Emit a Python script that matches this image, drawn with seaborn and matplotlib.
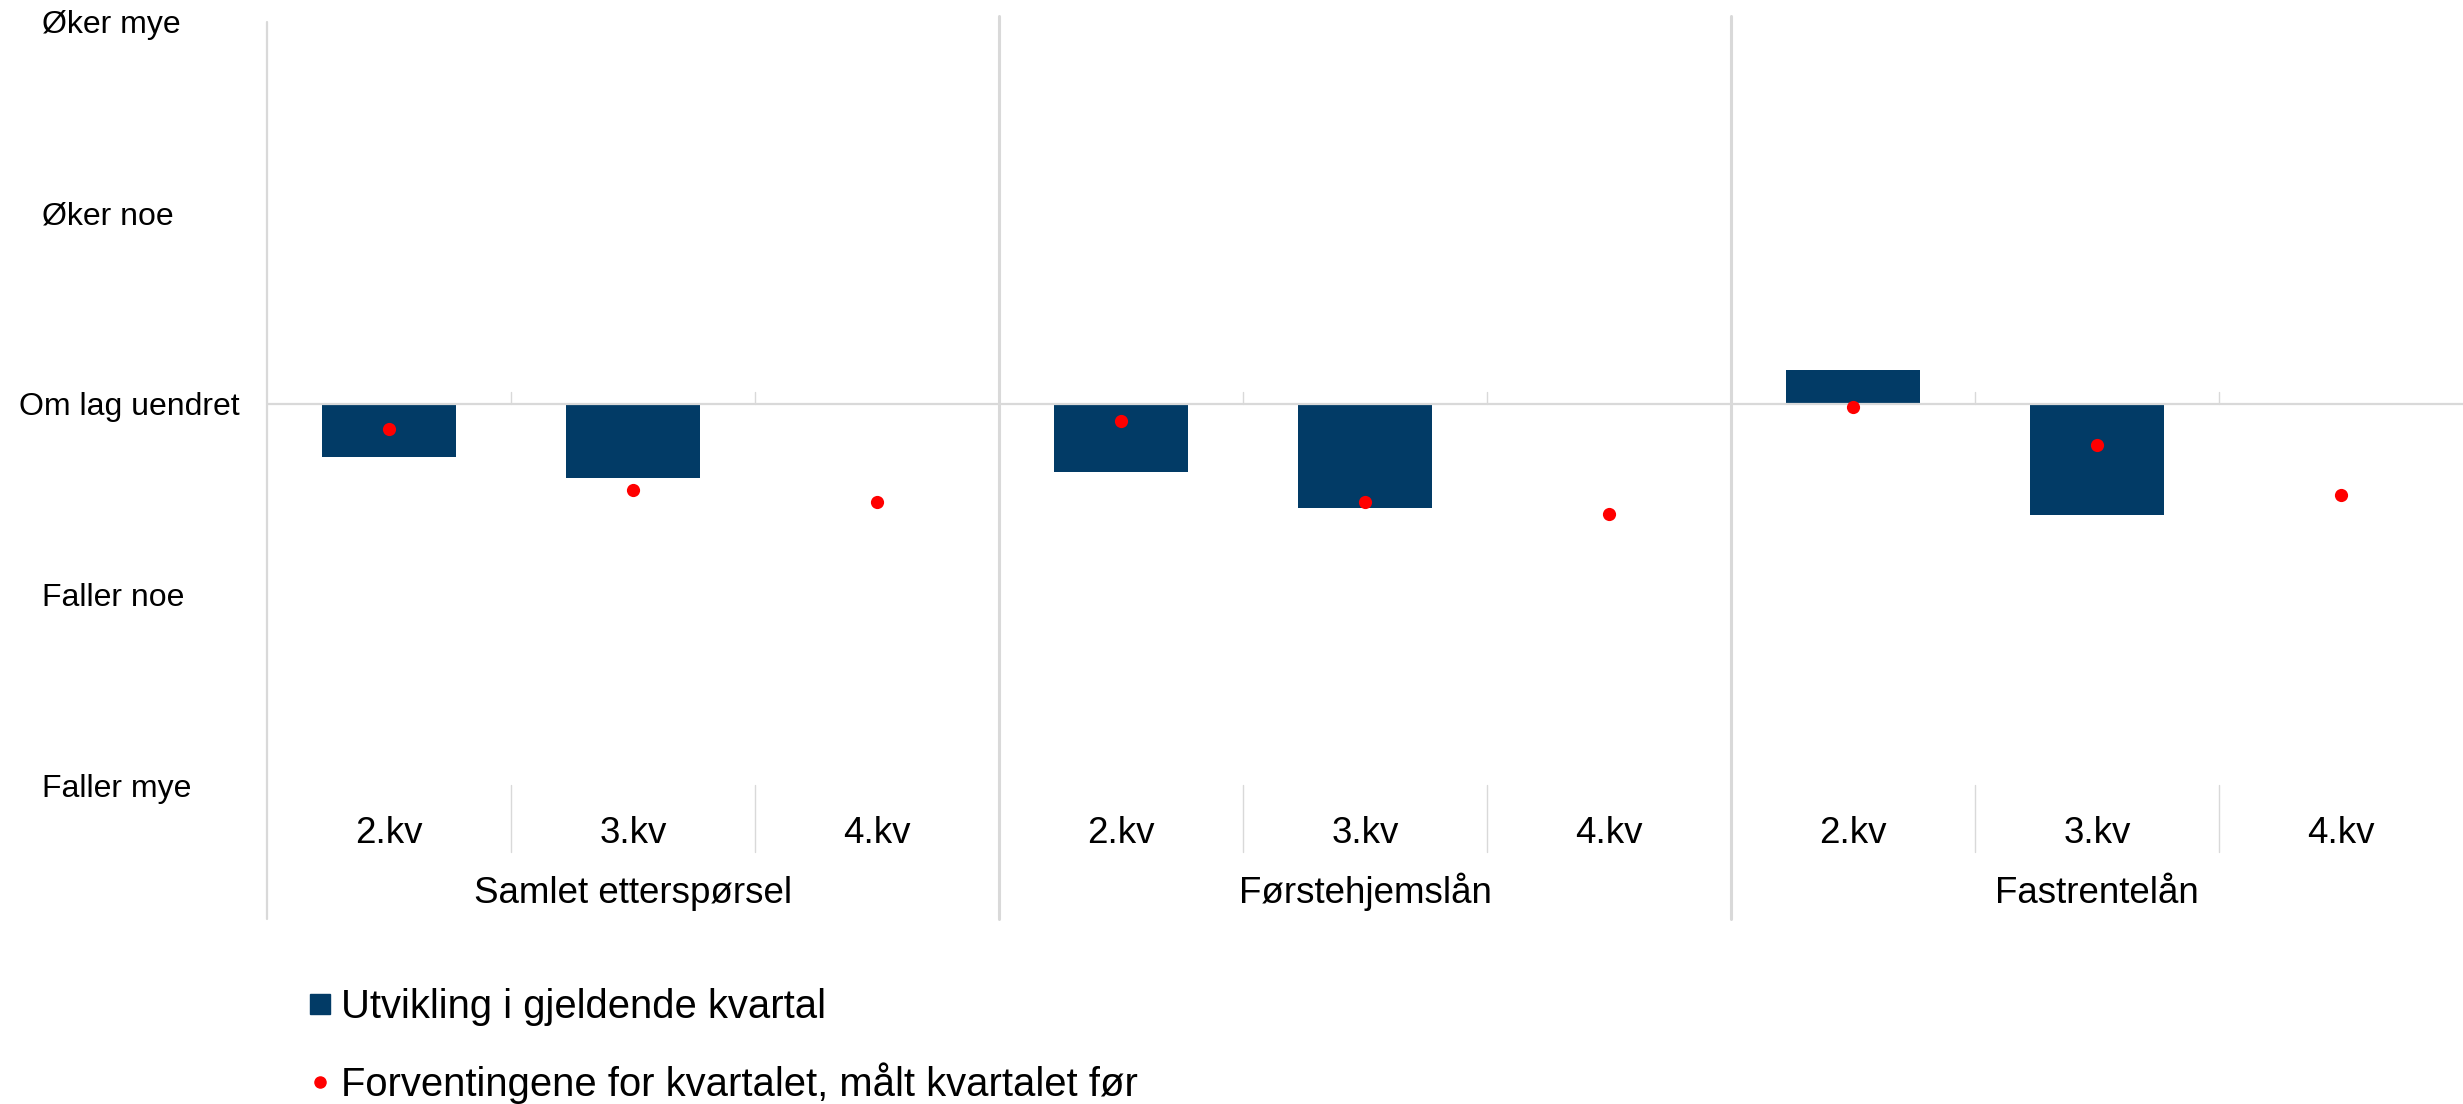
import matplotlib
matplotlib.use("Agg")
import matplotlib.pyplot as plt
from matplotlib.lines import Line2D
import seaborn as sns
import numpy as np
import pandas as pd

# Data (net share, -100..100)
groups = ["Samlet etterspørsel", "Førstehjemslån", "Fastrentelån"]
quarters = ["2.kv", "3.kv", "4.kv"]
utvikling = [-14.0, -19.4, np.nan,
             -18.0, -27.5, np.nan,
             8.9, -29.1, np.nan]
forventning = [-6.8, -22.8, -25.9,
               -4.7, -25.8, -29.0,
               -1.0, -10.8, -24.0]
ytick_values = [-100, -50, 0, 50, 100]
ytick_labels = ["Faller mye", "Faller noe", "Om lag uendret", "Øker noe", "Øker mye"]

bar_color = "#023B66"
dot_color = "#FF0000"
grid_color = "#D9D9D9"

df = pd.DataFrame({
    "gruppe": np.repeat(groups, len(quarters)),
    "kvartal": quarters * len(groups),
    "utvikling": utvikling,
    "forventning": forventning,
})
df["pos"] = df["gruppe"] + " " + df["kvartal"]
order = list(df["pos"])

sns.set_style("white")
plt.rcParams["font.family"] = ["Liberation Sans", "DejaVu Sans"]
plt.rcParams["text.color"] = "black"

W, H = 2463, 1104
fig = plt.figure(figsize=(W / 100, H / 100), dpi=100)
ax_left, ax_right, ax_top, ax_bottom = 267, 2463, 22, 785
ax = fig.add_axes([ax_left / W, (H - ax_bottom) / H,
                   (ax_right - ax_left) / W, (ax_bottom - ax_top) / H])

# Bars and dots
sns.barplot(data=df.dropna(subset=["utvikling"]), x="pos", y="utvikling",
            order=order, color=bar_color, saturation=1, width=0.55,
            linewidth=0, errorbar=None, ax=ax, zorder=2)
sns.stripplot(data=df, x="pos", y="forventning", order=order, jitter=False,
              color=dot_color, size=9.5, linewidth=0, ax=ax, zorder=4)

ax.set_xlim(-0.5, len(order) - 0.5)
ax.set_ylim(-100, 100)
ax.set_xlabel("")
ax.set_ylabel("")
for s in ax.spines.values():
    s.set_visible(False)

# Zero line (category axis)
ax.axhline(0, color=grid_color, lw=1.6, zorder=3)

# Y axis: tick marks, labels drawn as text so each can be placed like the original
ax.set_yticks(ytick_values)
ax.set_yticklabels([])
ax.tick_params(axis="y", direction="in", length=8, width=1.2, color=grid_color)
ax.set_xticks([])

px_w = ax_right - ax_left
ylab_left = (42 - ax_left) / px_w
ylab_right = (240 - ax_left) / px_w
ylabels = []
for v, lab in zip(ytick_values, ytick_labels):
    ylabels.append(ax.text(ylab_left, v, lab, transform=ax.get_yaxis_transform(),
                           ha="left", va="center_baseline", fontsize=23))
fig.canvas.draw()
limit = fig.transFigure.transform((241 / W, 0))[0]
for t in ylabels:
    if t.get_window_extent().x1 > limit:
        t.set_ha("right")
        t.set_x(ylab_right)

px_per_axes = ax_bottom - ax_top
y_low = (ax_bottom - 919) / px_per_axes      # bottom of the label area
y_kv = (ax_bottom - 843) / px_per_axes
y_grp = (ax_bottom - 903) / px_per_axes
y_sep = (ax_bottom - 852) / px_per_axes
trans = ax.get_xaxis_transform()

# left spine, extended down through the label area
ax.plot([-0.5, -0.5], [y_low, 1.0], transform=trans, color=grid_color,
        lw=1.6, clip_on=False, zorder=1)

n_q = len(quarters)
for gi, g in enumerate(groups):
    start = gi * n_q - 0.5
    # group divider
    if gi > 0:
        ax.plot([start, start], [y_low, 1.008], transform=trans,
                color=grid_color, lw=2.2, clip_on=False, zorder=1)
    # separators between quarters within a group
    for k in range(1, n_q):
        xb = start + k
        ax.plot([xb, xb], [y_sep, 0.0], transform=trans, color=grid_color,
                lw=1.0, clip_on=False, zorder=1)
        ax.plot([xb, xb], [0, 2.9], color=grid_color, lw=1.0, zorder=1)
    for qi, q in enumerate(quarters):
        ax.text(gi * n_q + qi, y_kv, q, transform=trans, ha="center",
                va="baseline", fontsize=26.5)
    ax.text(gi * n_q + (n_q - 1) / 2, y_grp, g, transform=trans,
            ha="center", va="baseline", fontsize=26.5)

# Legend
handles = [
    Line2D([], [], marker="s", ls="none", color=bar_color, markersize=15),
    Line2D([], [], marker="o", ls="none", color=dot_color, markersize=8),
]
labels = ["Utvikling i gjeldende kvartal",
          "Forventingene for kvartalet, målt kvartalet før"]
fig.legend(handles, labels, loc="center left",
           bbox_to_anchor=(309 / W, (H - 1046) / H), frameon=False,
           fontsize=28.8, handlelength=0.55, handletextpad=0.25,
           labelspacing=0.92, borderpad=0, borderaxespad=0)

fig.savefig("out.png", dpi=100)
